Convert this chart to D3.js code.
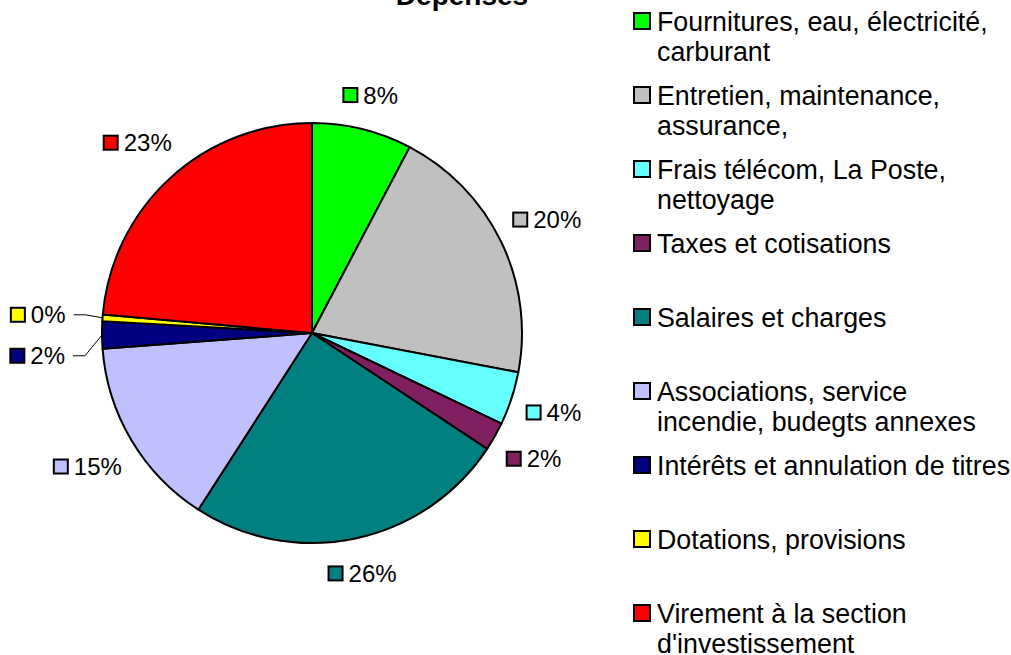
<!DOCTYPE html>
<html>
<head>
<meta charset="utf-8">
<script src="https://cdn.jsdelivr.net/npm/d3@7"></script>
<style>
  body { margin: 0; background: #fff; }
  svg { font-family: "Liberation Sans", Arial, sans-serif; display: block; }
</style>
</head>
<body>
<div id="chart"></div>
<script>
// categories (legend lines), slice values (%), printed labels, colours
var categories = [
    ["Fournitures, eau, électricité,", "carburant"],
    ["Entretien, maintenance,", "assurance,"],
    ["Frais télécom, La Poste,", "nettoyage"],
    ["Taxes et cotisations"],
    ["Salaires et charges"],
    ["Associations, service", "incendie, budegts annexes"],
    ["Intérêts et annulation de titres"],
    ["Dotations, provisions"],
    ["Virement à la section", "d'investissement"]
];
var values = [7.7, 20.3, 4.1, 2.2, 24.8, 14.7, 2.1, 0.5, 23.6];
var pctLabels = ["8%", "20%", "4%", "2%", "26%", "15%", "2%", "0%", "23%"];
var colors = ["#00ff00", "#c0c0c0", "#66ffff", "#802060", "#008080", "#c0c0ff", "#000080", "#ffff00", "#ff0000"];

var width = 1011, height = 655;
var cx = 312, cy = 333, r = 210;

var svg = d3.select("#chart").append("svg")
    .attr("width", width)
    .attr("height", height);

// title, cut off at the top like the original
svg.append("text")
    .attr("x", 462)
    .attr("y", 5)
    .attr("text-anchor", "middle")
    .style("font-size", "28px")
    .style("font-weight", "bold")
    .text("Dépenses");

var data = values.map(function (v, i) {
    return { value: v, label: pctLabels[i], color: colors[i], name: categories[i] };
});

var pie = d3.pie().sort(null).value(function (d) { return d.value; });
var arc = d3.arc().innerRadius(0).outerRadius(r);
var arcs = pie(data);

var g = svg.append("g").attr("transform", "translate(" + cx + "," + cy + ")");

g.selectAll("path.slice")
    .data(arcs)
    .enter()
    .append("path")
    .attr("class", "slice")
    .attr("d", arc)
    .attr("fill", function (d) { return d.data.color; })
    .attr("stroke", "#000")
    .attr("stroke-width", 2)
    .attr("stroke-linejoin", "round");

// data labels
var boxSize = 14, gap = 6, lh = 20;
var labels = g.selectAll("g.lbl")
    .data(arcs)
    .enter()
    .append("g")
    .attr("class", "lbl");

labels.append("rect")
    .attr("width", boxSize)
    .attr("height", boxSize)
    .attr("fill", function (d) { return d.data.color; })
    .attr("stroke", "#000")
    .attr("stroke-width", 2);

labels.append("text")
    .attr("x", boxSize + gap)
    .style("font-size", "24px")
    .text(function (d) { return d.data.label; });

// natural positions just outside the pie
var info = [];
labels.each(function (d) {
    var tw = d3.select(this).select("text").node().getComputedTextLength();
    var w = boxSize + gap + tw;
    var a = (d.startAngle + d.endAngle) / 2;
    var s = Math.sin(a), c = -Math.cos(a);
    var rad = r + 14 + (w / 2) * Math.abs(s) + (lh / 2 + 5) * Math.abs(c);
    info.push({ node: this, d: d, w: w, a: a, x: rad * s, y: rad * c, leader: false, left: s < 0 });
});

// simple collision handling: push the lower label down, draw leader lines
[true, false].forEach(function (side) {
    var list = info.filter(function (o) { return o.left === side; })
        .sort(function (a, b) { return a.y - b.y; });
    for (var i = 1; i < list.length; i++) {
        var p = list[i - 1], o = list[i];
        var overlapX = Math.abs(p.x - o.x) < (p.w + o.w) / 2;
        if (overlapX && o.y - p.y < lh + 4) {
            p.leader = true;
            o.leader = true;
            o.y = p.y + 41;
        }
    }
});

info.forEach(function (o) {
    var ex = r * Math.sin(o.a), ey = -r * Math.cos(o.a);
    if (o.leader) {
        var edge = ex + (o.left ? -37 : 37);
        o.x = o.left ? edge - o.w / 2 : edge + o.w / 2;
        var sx = o.left ? edge + 8 : edge - 8;
        var mx = o.left ? sx + 12 : sx - 12;
        g.append("polyline")
            .attr("points", [[sx, o.y], [mx, o.y], [ex, ey]].map(function (p) { return p.join(","); }).join(" "))
            .attr("fill", "none")
            .attr("stroke", "#000")
            .attr("stroke-width", 1);
    }
    var sel = d3.select(o.node)
        .attr("transform", "translate(" + (o.x - o.w / 2) + "," + o.y + ")");
    sel.select("rect").attr("y", -boxSize / 2);
    sel.select("text").attr("y", 8.5);
});

// legend
var legend = svg.append("g").attr("transform", "translate(634,0)");
var rowStep = 74, firstBase = 31;

var items = legend.selectAll("g.item")
    .data(data)
    .enter()
    .append("g")
    .attr("class", "item")
    .attr("transform", function (d, i) { return "translate(0," + (firstBase + i * rowStep) + ")"; });

items.append("rect")
    .attr("x", 0)
    .attr("y", -18)
    .attr("width", 16)
    .attr("height", 16)
    .attr("fill", function (d) { return d.color; })
    .attr("stroke", "#000")
    .attr("stroke-width", 2);

items.append("text")
    .style("font-size", "26.8px")
    .selectAll("tspan")
    .data(function (d) { return d.name; })
    .enter()
    .append("tspan")
    .attr("x", 23)
    .attr("y", function (t, j) { return j * 30; })
    .text(function (t) { return t; });
</script>
</body>
</html>
